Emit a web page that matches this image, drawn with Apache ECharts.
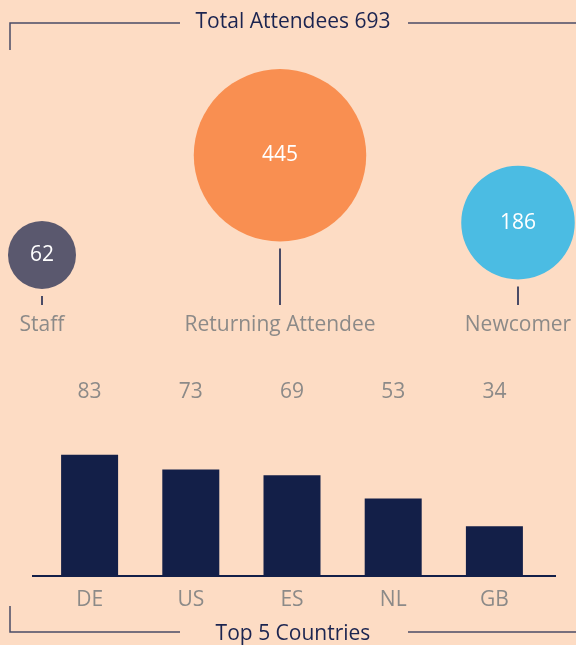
<!DOCTYPE html>
<html>
<head>
<meta charset="utf-8">
<script src="https://cdn.jsdelivr.net/npm/echarts@6/dist/echarts.min.js"></script>
<style>
  html, body { margin: 0; padding: 0; background: #fddcc4; }
  #main { width: 576px; height: 645px; }
</style>
</head>
<body>
<div id="main"></div>
<script>
var bubbleNames = ['Staff', 'Returning Attendee', 'Newcomer'];
var bubbleValues = [62, 445, 186];
var bubbleColors = ['#5a586e', '#f98f51', '#4bbce3'];

var countries = ['DE', 'US', 'ES', 'NL', 'GB'];
var countryValues = [83, 73, 69, 53, 34];

var total = bubbleValues.reduce(function (a, b) { return a + b; }, 0);

var FONT = '"Open Sans", sans-serif';
var FS = 21;
var LINE_COLOR = '#4a4b66';
var NAVY = '#131f48';
var GRAY = '#8c8a88';

// radius from value (sqrt scale)
function radius(v) { return 3.95 * Math.sqrt(v) + 2.9; }

var myChart = echarts.init(document.getElementById('main'));

var bubbleData = bubbleValues.map(function (v, i) { return [i, v]; });

var option = {
  backgroundColor: '#fddcc4',
  animation: false,
  textStyle: { fontFamily: FONT },
  grid: [
    { left: 42, right: 58, top: 141, bottom: 374 },
    { left: 39, right: 31, top: 430, bottom: 69 }
  ],
  xAxis: [
    { gridIndex: 0, type: 'value', min: 0, max: 2, show: false },
    {
      gridIndex: 1, type: 'category', data: countries, position: 'bottom',
      axisLine: { show: false }, axisTick: { show: false },
      axisLabel: { color: GRAY, fontSize: FS, fontFamily: FONT, margin: 14 }
    },
    {
      gridIndex: 1, type: 'category', position: 'top',
      data: countryValues.map(String),
      axisLine: { show: false }, axisTick: { show: false },
      axisLabel: { color: GRAY, fontSize: FS, fontFamily: FONT, margin: 27 }
    }
  ],
  yAxis: [
    { gridIndex: 0, type: 'value', min: 0, max: 500, show: false },
    { gridIndex: 1, type: 'value', min: 0, max: 100, show: false }
  ],
  series: [
    {
      type: 'custom',
      xAxisIndex: 0,
      yAxisIndex: 0,
      clip: false,
      data: bubbleData,
      renderItem: function (params, api) {
        var v = api.value(1);
        var c = api.coord([api.value(0), v]);
        var r = radius(v);
        var i = params.dataIndex;
        return {
          type: 'group',
          children: [
            { type: 'circle', shape: { cx: c[0], cy: c[1], r: r }, style: { fill: bubbleColors[i] } },
            { type: 'text', style: { text: String(v), x: c[0], y: c[1], align: 'center', verticalAlign: 'middle', fill: '#ffffff', fontSize: FS, fontFamily: FONT } },
            { type: 'line', shape: { x1: c[0], y1: c[1] + r + 7, x2: c[0], y2: 305 }, style: { stroke: LINE_COLOR, lineWidth: 2 } },
            { type: 'text', style: { text: bubbleNames[i], x: c[0], y: 325, align: 'center', verticalAlign: 'middle', fill: GRAY, fontSize: FS, fontFamily: FONT } }
          ]
        };
      }
    },
    {
      type: 'bar',
      xAxisIndex: 1,
      yAxisIndex: 1,
      data: countryValues,
      barWidth: 57,
      itemStyle: { color: NAVY }
    }
  ],
  graphic: [
    { type: 'line', shape: { x1: 32, y1: 576, x2: 556, y2: 576 }, style: { stroke: NAVY, lineWidth: 2 } },
    { type: 'polyline', shape: { points: [[10, 50], [10, 23], [180, 23]] }, style: { stroke: LINE_COLOR, lineWidth: 1.5, fill: null } },
    { type: 'line', shape: { x1: 408, y1: 23, x2: 576, y2: 23 }, style: { stroke: LINE_COLOR, lineWidth: 1.5 } },
    { type: 'text', x: 293, y: 22, style: { text: 'Total Attendees ' + total, align: 'center', verticalAlign: 'middle', fill: '#1b2450', fontSize: FS, fontFamily: FONT } },
    { type: 'polyline', shape: { points: [[10, 606], [10, 632], [180, 632]] }, style: { stroke: LINE_COLOR, lineWidth: 1.5, fill: null } },
    { type: 'line', shape: { x1: 408, y1: 632, x2: 576, y2: 632 }, style: { stroke: LINE_COLOR, lineWidth: 1.5 } },
    { type: 'text', x: 293, y: 634, style: { text: 'Top 5 Countries', align: 'center', verticalAlign: 'middle', fill: '#1b2450', fontSize: FS, fontFamily: FONT } }
  ]
};

myChart.setOption(option);
</script>
</body>
</html>
